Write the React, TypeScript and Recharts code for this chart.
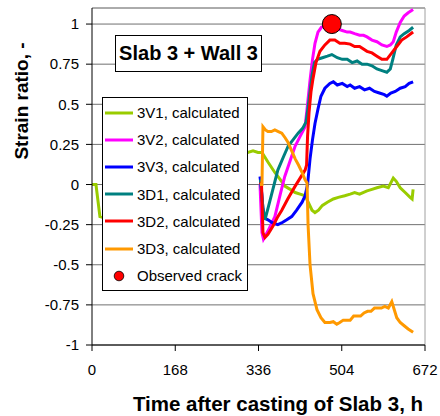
import { CartesianGrid, ComposedChart, Label, Legend, Line, ReferenceLine, Scatter, XAxis, YAxis } from "recharts";

const fontFamily = "'Liberation Sans', Arial, sans-serif";

const hourTicks = [0, 168, 336, 504, 672];
const ratioTicks = [-1, -0.75, -0.5, -0.25, 0, 0.25, 0.5, 0.75, 1];

// [hours, strain ratio]
const v1Points: [number, number][] = [
    [0, 0], [8, 0], [16, -0.2], [40, -0.22], [100, -0.1], [200, 0.05], [280, 0.15],
    [315, 0.2], [325, 0.21], [335, 0.2], [343, 0.2], [355, 0.14], [369, 0.075], [380, 0.03],
    [389, -0.01], [400, -0.03], [410, -0.05], [420, -0.06], [430, -0.07], [438, -0.12],
    [444, -0.16], [450, -0.175], [457, -0.16], [465, -0.13], [475, -0.11], [487, -0.09],
    [497, -0.08], [510, -0.07], [521, -0.06], [530, -0.05], [540, -0.06], [555, -0.04],
    [565, -0.03], [575, -0.02], [588, -0.01], [598, -0.02], [608, 0.04], [614, 0.02],
    [622, -0.02], [632, -0.05], [642, -0.08], [646, -0.09], [648, -0.03]
];

const v2Points: [number, number][] = [
    [339, 0], [343, -0.3], [346, -0.34], [355, -0.29], [369, -0.2], [380, -0.06], [389, 0.05],
    [400, 0.15], [410, 0.24], [420, 0.3], [430, 0.36], [435, 0.5], [440, 0.65], [445, 0.78],
    [450, 0.88], [456, 0.95], [463, 0.98], [470, 0.99], [480, 0.99], [487, 0.98], [495, 0.97],
    [505, 0.96], [515, 0.95], [521, 0.95], [530, 0.94], [540, 0.93], [548, 0.93], [555, 0.92],
    [565, 0.9], [575, 0.89], [585, 0.87], [595, 0.86], [602, 0.87], [608, 0.89], [614, 0.95],
    [622, 1.01], [630, 1.05], [638, 1.07], [648, 1.09]
];

const v3Points: [number, number][] = [
    [339, 0.05], [341, 0], [345, -0.15], [349, -0.21], [355, -0.22], [365, -0.24], [375, -0.25],
    [385, -0.235], [393, -0.22], [403, -0.2], [413, -0.16], [424, -0.11], [430, -0.07],
    [435, 0.0], [440, 0.16], [445, 0.28], [450, 0.38], [456, 0.47], [462, 0.55], [470, 0.6],
    [480, 0.63], [487, 0.64], [495, 0.62], [505, 0.63], [515, 0.61], [521, 0.62], [530, 0.6],
    [540, 0.61], [550, 0.59], [560, 0.6], [570, 0.58], [580, 0.57], [590, 0.56], [595, 0.55],
    [603, 0.57], [612, 0.58], [622, 0.6], [632, 0.61], [640, 0.63], [648, 0.64]
];

const d1Points: [number, number][] = [
    [340, 0.03], [345, -0.15], [349, -0.22], [355, -0.15], [365, -0.03], [375, 0.09],
    [386, 0.17], [396, 0.24], [406, 0.28], [416, 0.32], [425, 0.35], [432, 0.39], [436, 0.48],
    [440, 0.58], [444, 0.68], [449, 0.76], [455, 0.78], [465, 0.79], [475, 0.8], [484, 0.81],
    [495, 0.79], [505, 0.78], [515, 0.78], [525, 0.76], [535, 0.77], [545, 0.75], [555, 0.75],
    [565, 0.74], [575, 0.72], [585, 0.71], [595, 0.7], [602, 0.72], [607, 0.78], [614, 0.87],
    [622, 0.92], [630, 0.94], [640, 0.96], [648, 0.98]
];

const d2Points: [number, number][] = [
    [339, 0], [342, 0.01], [345, -0.3], [349, -0.33], [355, -0.31], [365, -0.26], [375, -0.2],
    [383, -0.16], [395, -0.09], [410, -0.01], [420, 0.04], [430, 0.09], [433, 0.12],
    [435, 0.3], [438, 0.45], [442, 0.58], [446, 0.66], [452, 0.76], [460, 0.83], [470, 0.87],
    [480, 0.9], [490, 0.9], [500, 0.88], [510, 0.88], [521, 0.875], [530, 0.86], [540, 0.86],
    [555, 0.83], [565, 0.82], [575, 0.8], [585, 0.78], [595, 0.78], [605, 0.82], [615, 0.86],
    [625, 0.9], [635, 0.92], [648, 0.95]
];

const d3Points: [number, number][] = [
    [339, 0], [343, 0], [345, 0.36], [350, 0.34], [355, 0.33], [362, 0.33], [369, 0.34],
    [376, 0.33], [383, 0.32], [390, 0.29], [396, 0.26], [403, 0.21], [410, 0.16], [417, 0.12],
    [424, 0.075], [430, 0.03], [434, 0.01], [436, -0.25], [440, -0.5], [446, -0.68],
    [454, -0.78], [462, -0.83], [470, -0.86], [480, -0.86], [487, -0.855], [494, -0.87],
    [500, -0.86], [507, -0.845], [514, -0.845], [521, -0.845], [528, -0.82], [535, -0.82],
    [542, -0.82], [549, -0.8], [556, -0.79], [563, -0.79], [570, -0.77], [577, -0.77],
    [584, -0.77], [591, -0.76], [598, -0.77], [605, -0.73], [610, -0.78], [615, -0.83],
    [622, -0.86], [630, -0.88], [638, -0.9], [648, -0.92]
];

const crackPoints: [number, number][] = [[484, 1.0]];
const crackName = "Observed crack";

const seriesList = [
    { name: "3V1, calculated", color: "#99CC00", points: v1Points },
    { name: "3V2, calculated", color: "#FF00FF", points: v2Points },
    { name: "3V3, calculated", color: "#0000FF", points: v3Points },
    { name: "3D1, calculated", color: "#008080", points: d1Points },
    { name: "3D2, calculated", color: "#FF0000", points: d2Points },
    { name: "3D3, calculated", color: "#FF9900", points: d3Points }
];

function toData(points: [number, number][]) {
    return points.map(([h, v]) => ({ h, v }));
}

// keep the legend in series order (Recharts sorts its payload by name)
const legendEntries = [
    ...seriesList.map((s) => ({ value: s.name, color: s.color, type: "line" })),
    { value: crackName, color: "#FF0000", type: "circle" }
];

function LegendContent() {
    return (
        <div style={{ paddingTop: 1 }}>
            {legendEntries.map((entry) => (
                <div
                    key={entry.value}
                    style={{ height: 27.2, display: "flex", alignItems: "center", whiteSpace: "nowrap" }}
                >
                    <svg width={28} height={12} style={{ marginLeft: 2, marginRight: 4, flexShrink: 0 }}>
                        {entry.type === "circle" ? (
                            <circle cx={14} cy={6} r={4.8} fill={entry.color} stroke="#000" strokeWidth={0.8} />
                        ) : (
                            <line x1={0} x2={28} y1={6} y2={6} stroke={entry.color} strokeWidth={3} />
                        )}
                    </svg>
                    <span>{entry.value}</span>
                </div>
            ))}
        </div>
    );
}

function CrackDot(props: { cx?: number; cy?: number }) {
    return <circle cx={props.cx} cy={props.cy} r={9.5} fill="#FF0000" stroke="#000" strokeWidth={1} />;
}

export default function App() {
    const tickStyle = { fontFamily, fontSize: 15, fill: "#000" };

    return (
        <div style={{ position: "absolute", left: 0, top: 0, width: 440, height: 416, background: "#fff" }}>
            <ComposedChart width={440} height={416} margin={{ top: 8, right: 15, bottom: 0, left: 0 }}>
                <CartesianGrid vertical={false} stroke="#707070" />
                <XAxis
                    dataKey="h"
                    type="number"
                    domain={[0, 672]}
                    ticks={hourTicks}
                    interval={0}
                    height={71}
                    tickSize={6}
                    tickMargin={13}
                    tick={tickStyle}
                    axisLine={{ stroke: "#000" }}
                    tickLine={{ stroke: "#000" }}
                >
                    <Label
                        content={() => (
                            <text
                                x={278}
                                y={411}
                                textAnchor="middle"
                                fontFamily={fontFamily}
                                fontSize={20.5}
                                fontWeight="bold"
                                fill="#000"
                            >
                                Time after casting of Slab 3, h
                            </text>
                        )}
                    />
                </XAxis>
                <YAxis
                    type="number"
                    domain={[-1, 1.1]}
                    ticks={ratioTicks}
                    interval={0}
                    allowDataOverflow
                    width={92}
                    tickSize={6}
                    tickMargin={7}
                    tick={tickStyle}
                    axisLine={{ stroke: "#000" }}
                    tickLine={{ stroke: "#000" }}
                >
                    <Label
                        content={() => (
                            <text
                                x={28}
                                y={101}
                                transform="rotate(-90 28 101)"
                                textAnchor="middle"
                                fontFamily={fontFamily}
                                fontSize={19}
                                fontWeight="bold"
                                fill="#000"
                            >
                                Strain ratio, -
                            </text>
                        )}
                    />
                </YAxis>
                <ReferenceLine y={1.1} stroke="#a0a0a0" />
                <ReferenceLine x={672} stroke="#a0a0a0" />
                {seriesList.map((s) => (
                    <Line
                        key={s.name}
                        data={toData(s.points)}
                        dataKey="v"
                        name={s.name}
                        type="linear"
                        stroke={s.color}
                        strokeWidth={3}
                        dot={false}
                        activeDot={false}
                        isAnimationActive={false}
                    />
                ))}
                <Scatter
                    data={toData(crackPoints)}
                    dataKey="v"
                    name={crackName}
                    fill="#FF0000"
                    legendType="circle"
                    shape={<CrackDot />}
                    isAnimationActive={false}
                />
                <Legend
                    layout="vertical"
                    align="center"
                    verticalAlign="middle"
                    content={<LegendContent />}
                    wrapperStyle={{
                        left: 102,
                        top: 97,
                        width: 146,
                        height: 194,
                        boxSizing: "border-box",
                        border: "1px solid #000",
                        background: "#fff",
                        overflow: "hidden",
                        fontFamily,
                        fontSize: 15,
                        color: "#000"
                    }}
                />
            </ComposedChart>
            <div
                style={{
                    position: "absolute",
                    left: 115,
                    top: 35,
                    width: 147,
                    height: 37,
                    boxSizing: "border-box",
                    border: "1px solid #000",
                    background: "#fff",
                    display: "flex",
                    alignItems: "center",
                    justifyContent: "center",
                    fontFamily,
                    fontSize: 20,
                    fontWeight: "bold",
                    color: "#000"
                }}
            >
                Slab 3 + Wall 3
            </div>
        </div>
    );
}
